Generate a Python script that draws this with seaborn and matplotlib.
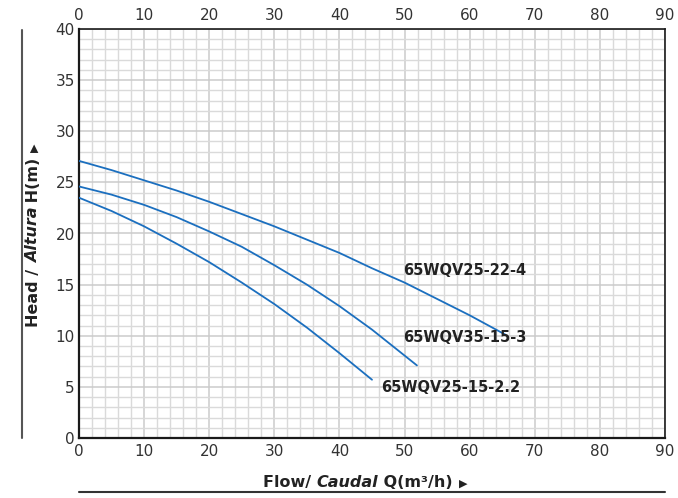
import matplotlib
matplotlib.use("Agg")
import matplotlib.pyplot as plt
import seaborn as sns
import pandas as pd
from matplotlib.ticker import MultipleLocator

# ---- data ----
q_22_4 = [0, 5, 10, 15, 20, 25, 30, 35, 40, 45, 50, 55, 60, 65.5]
h_22_4 = [27.1, 26.2, 25.2, 24.2, 23.1, 21.9, 20.7, 19.4, 18.1, 16.6, 15.2, 13.6, 12.0, 10.1]

q_15_3 = [0, 5, 10, 15, 20, 25, 30, 35, 40, 45, 51.9]
h_15_3 = [24.6, 23.8, 22.8, 21.6, 20.2, 18.7, 16.9, 15.0, 12.9, 10.6, 7.1]

q_15_22 = [0, 5, 10, 15, 20, 25, 30, 35, 40, 45]
h_15_22 = [23.5, 22.2, 20.7, 19.0, 17.2, 15.2, 13.1, 10.8, 8.3, 5.7]

models = ["65WQV25-22-4", "65WQV35-15-3", "65WQV25-15-2.2"]
label_pos = [(49.8, 16.4), (49.8, 9.8), (46.4, 4.9)]

x_ticks = list(range(0, 91, 10))
y_ticks = list(range(0, 41, 5))

frames = []
for name, q, h in zip(models, [q_22_4, q_15_3, q_15_22], [h_22_4, h_15_3, h_15_22]):
    frames.append(pd.DataFrame({"Q": q, "H": h, "model": name}))
df = pd.concat(frames, ignore_index=True)

sns.set_style("white")
plt.rcParams["font.family"] = ["DejaVu Sans"]

fig = plt.figure(figsize=(6.78, 4.98), dpi=100)
ax = fig.add_axes([79 / 678, 60 / 498, 586 / 678, 409 / 498])

line_color = "#1b6fbf"
sns.lineplot(data=df, x="Q", y="H", hue="model", palette=[line_color] * 3,
             sort=False, legend=False, linewidth=1.3, ax=ax, zorder=3)

ax.set_xlim(0, 90)
ax.set_ylim(0, 40)
ax.set_xticks(x_ticks)
ax.set_yticks(y_ticks)
ax.xaxis.set_minor_locator(MultipleLocator(2))
ax.yaxis.set_minor_locator(MultipleLocator(1))
ax.grid(which="minor", color="#dadada", linewidth=1.0, zorder=0)
ax.grid(which="major", color="#cbcbcb", linewidth=1.1, zorder=0)
ax.set_axisbelow(True)
ax.tick_params(which="both", length=0)
ax.tick_params(axis="x", top=True, labeltop=True, pad=4, labelsize=11, labelcolor="#333333")
ax.tick_params(axis="y", pad=3, labelsize=11, labelcolor="#333333")
ax.set_xlabel("")
ax.set_ylabel("")
for s in ax.spines.values():
    s.set_visible(True)
    s.set_color("#1a1a1a")
    s.set_linewidth(1.2)
ax.spines["left"].set_linewidth(1.6)
ax.spines["bottom"].set_linewidth(1.6)

for name, (x, y) in zip(models, label_pos):
    ax.text(x, y, name, fontsize=10.5, fontweight="bold", color="#222222",
            ha="left", va="center", zorder=4)

# ---- composite axis labels ----
fig.canvas.draw()
renderer = fig.canvas.get_renderer()

def place_run(parts, x0, y0, rotation=0):
    x, y = x0, y0
    for text, kw in parts:
        kw = dict(kw)
        size = kw.pop("fontsize", 11.5)
        t = fig.text(x, y, text, rotation=rotation, fontsize=size, color="#222222",
                     ha="left", va="baseline", rotation_mode="anchor", **kw)
        bb = t.get_window_extent(renderer)
        if rotation == 0:
            x += bb.width / fig.bbox.width
        else:
            y += bb.height / fig.bbox.height

xparts = [("Flow/ ", {"fontweight": "bold"}),
          ("Caudal", {"fontweight": "bold", "fontstyle": "italic"}),
          (" Q(m³/h) ", {"fontweight": "bold"}),
          ("▶", {"fontsize": 8})]
place_run(xparts, 263 / 678, 1 - 487 / 498, rotation=0)

yparts = [("Head / ", {"fontweight": "bold"}),
          ("Altura", {"fontweight": "bold", "fontstyle": "italic"}),
          (" H(m) ", {"fontweight": "bold"}),
          ("▶", {"fontsize": 8})]
place_run(yparts, 38 / 678, 1 - 327 / 498, rotation=90)

# decorative rules
fig.add_artist(plt.Line2D([22 / 678, 22 / 678], [1 - 438 / 498, 1 - 30 / 498],
                          color="#555555", linewidth=1.5, transform=fig.transFigure))
fig.add_artist(plt.Line2D([79 / 678, 665 / 678], [1 - 492 / 498, 1 - 492 / 498],
                          color="#333333", linewidth=1.5, transform=fig.transFigure))

fig.savefig("out.png", dpi=100)
